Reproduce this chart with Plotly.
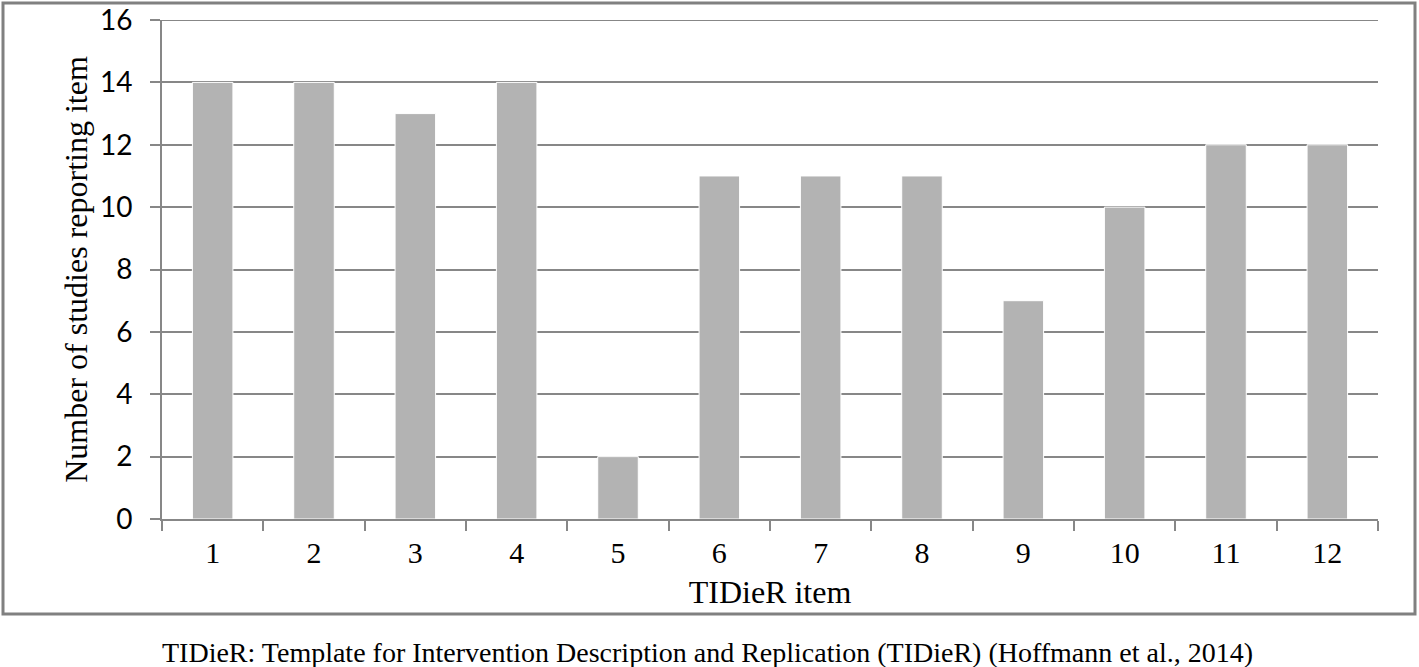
import plotly.graph_objects as go

# TIDieR items and number of studies reporting each
items = ["1", "2", "3", "4", "5", "6", "7", "8", "9", "10", "11", "12"]
studies = [14, 14, 13, 14, 2, 11, 11, 11, 7, 10, 12, 12]

y_ticks = [0, 2, 4, 6, 8, 10, 12, 14, 16]

GRID = "#878787"
BAR = "#b3b3b3"
SERIF = "Liberation Serif, Times New Roman, serif"
SANS = "Lato, Open Sans, sans-serif"

W, H = 1419, 667
L, T, PW, PH = 162, 20, 1216, 499


def px_x(x):
    return (x - L) / PW


def px_y(y):
    return (T + PH - y) / PH


fig = go.Figure()
fig.add_trace(go.Bar(
    x=items, y=studies,
    marker=dict(color=BAR, line=dict(color="white", width=1)),
    width=0.4,
))

fig.update_xaxes(
    type="category", automargin=False,
    showline=True, linecolor=GRID, linewidth=2,
    ticks="outside", tickson="boundaries", ticklen=10, tickcolor=GRID, tickwidth=2,
    showgrid=False,
    tickfont=dict(family=SERIF, size=30, color="black"), ticklabelstandoff=6,
    title=dict(text="TIDieR item", font=dict(family=SERIF, size=32, color="black"), standoff=13),
)
fig.update_yaxes(
    range=[0, 16.001], tickvals=y_ticks, automargin=False,
    showline=True, linecolor=GRID, linewidth=2,
    ticks="outside", ticklen=10, tickcolor=GRID, tickwidth=2,
    showgrid=True, gridcolor=GRID, gridwidth=2,
    zeroline=False,
    tickfont=dict(family=SANS, size=28, color="black"), ticklabelstandoff=12,
    title=dict(text="Number of studies reporting item", font=dict(family=SERIF, size=32, color="black"), standoff=3),
)

# plotly drops the gridline sitting on the top edge, so draw it here
fig.add_hline(y=y_ticks[-1], line=dict(color=GRID, width=2), layer="below")

# outer frame around the chart
fig.add_shape(type="rect", xref="paper", yref="paper",
              x0=px_x(3), x1=px_x(1415), y0=px_y(614), y1=px_y(3),
              line=dict(color="#808080", width=3), layer="below")

# caption below the frame
fig.add_annotation(
    text="TIDieR: Template for Intervention Description and Replication (TIDieR) (Hoffmann et al., 2014)",
    xref="paper", yref="paper", x=px_x(707), y=px_y(652),
    showarrow=False, xanchor="center", yanchor="middle",
    font=dict(family=SERIF, size=28, color="black"),
)

fig.update_layout(
    width=W, height=H,
    margin=dict(l=L, r=W - L - PW, t=T, b=H - T - PH),
    plot_bgcolor="white", paper_bgcolor="white",
    showlegend=False,
)

# drop the default 8px body margin so the figure fills the window exactly
fig.write_html("out.html", config={"displayModeBar": False},
               post_script="document.body.style.margin = '0';")
